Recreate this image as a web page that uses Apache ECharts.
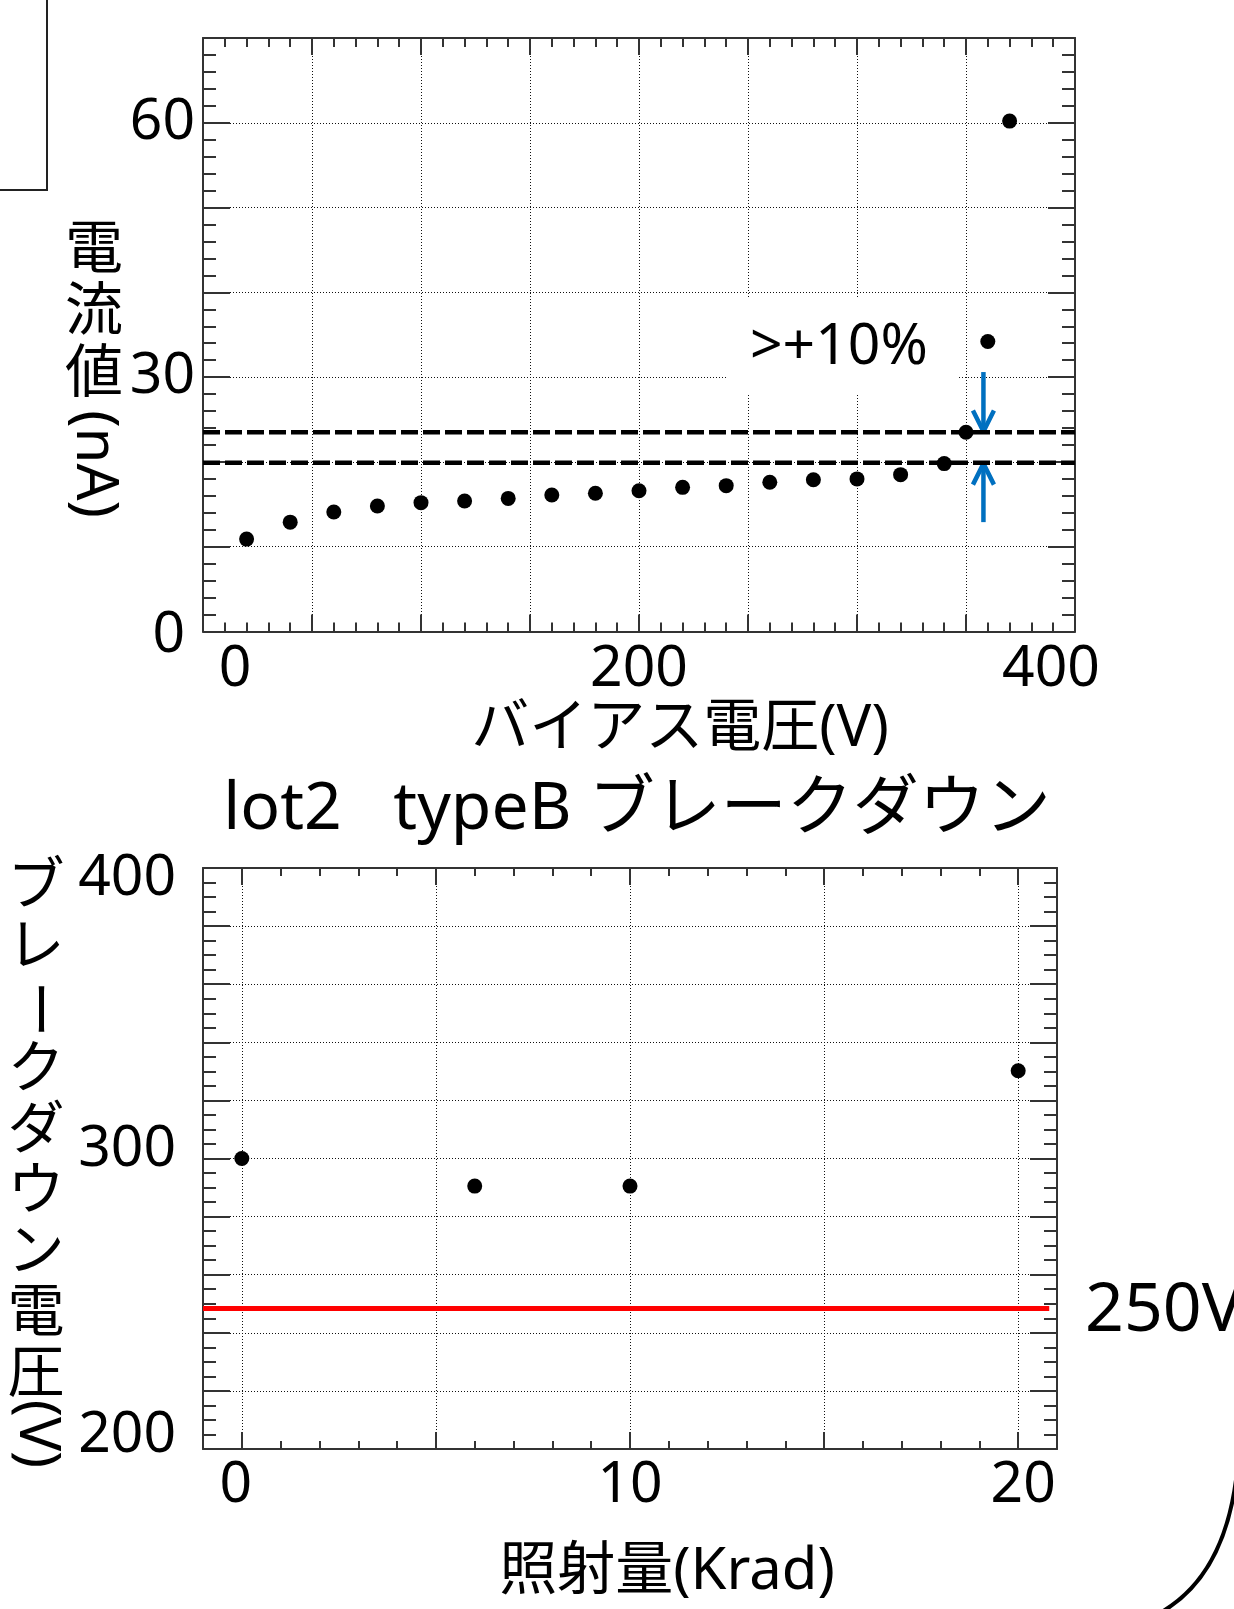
<!DOCTYPE html>
<html>
<head>
<meta charset="utf-8">
<script src="https://cdn.jsdelivr.net/npm/echarts@6/dist/echarts.min.js"></script>
<style>
  html, body { margin: 0; padding: 0; background: #fff; }
  #main { width: 1234px; height: 1609px; }
</style>
</head>
<body>
<div id="main"></div>
<script>
// 上のグラフ: バイアス電圧 vs 電流値
const biasVoltage = [20, 40, 60, 80, 100, 120, 140, 160, 180, 200, 220, 240, 260, 280, 300, 320, 340, 350, 360, 370]
const currentNA = [10.9, 12.9, 14.1, 14.8, 15.2, 15.4, 15.7, 16.1, 16.3, 16.6, 17.0, 17.2, 17.6, 17.9, 18.0, 18.5, 19.8, 23.5, 34.2, 60.2]
const biasTickLabels = [0, 200, 400]
const currentTickLabels = [0, 30, 60]
const thresholdSpan = [0, 400]
const thresholdLevels = [23.5, 19.9]
const arrowVoltage = 358
const arrowDown = [30.6, 23.6]
const arrowUp = [12.9, 19.8]

// 下のグラフ: 照射量 vs ブレークダウン電圧
const doseKrad = [0, 6, 10, 20]
const breakdownV = [300, 290.5, 290.5, 330.2]
const doseMajorTicks = [0, 5, 10, 15, 20]
const doseTickLabels = [0, 10, 20]
const breakdownTickLabels = [200, 300, 400]
const limitSpan = [-1, 20.8]
const limitLevel = 248.4

const FONT = "'Noto Sans', 'Noto Sans CJK JP', sans-serif"
const frameColor = '#333'
const blue = '#0070C0'

const chartDom = document.getElementById('main')
const myChart = echarts.init(chartDom)

const lineStyle = { color: frameColor, width: 2 }
const dots = { show: true, lineStyle: { color: '#111', width: 1, type: [1, 2] } }
const lbl = (extra) => ({ fontSize: 57, fontFamily: FONT, color: '#000', ...extra })

function frameAxis(opt) {
  return Object.assign({
    type: 'value',
    axisLine: { show: true, onZero: false, lineStyle },
    axisTick: { show: true, inside: true, length: 17, lineStyle },
    minorTick: { show: false },
    axisLabel: { show: false },
    splitLine: { show: false },
  }, opt)
}

var option = {
  animation: false,
  backgroundColor: '#fff',
  grid: [
    { left: 203, top: 38, width: 872, height: 593.5, outerBoundsMode: 'none' },
    { left: 203, top: 868, width: 854, height: 581, outerBoundsMode: 'none' },
  ],
  xAxis: [
    frameAxis({
      gridIndex: 0, position: 'bottom', min: 0, max: 400, interval: 50,
      minorTick: { show: true, splitNumber: 5, length: 9, lineStyle },
      splitLine: dots,
      axisLabel: {
        show: true, margin: 10, customValues: biasTickLabels,
        formatter: (v) => (v === 0 ? '{l|0}' : v === 400 ? '{r|400}' : '{n|' + v + '}'),
        rich: { l: lbl({ padding: [0, 0, 0, 64] }), r: lbl({ padding: [0, 48, 0, 0] }), n: lbl({}) },
      },
    }),
    frameAxis({
      gridIndex: 0, position: 'top', min: 0, max: 400, interval: 50,
      minorTick: { show: true, splitNumber: 5, length: 9, lineStyle },
    }),
    frameAxis({
      gridIndex: 1, position: 'bottom', min: -1, max: 21, interval: 1,
      axisTick: { show: true, inside: true, length: 8, lineStyle },
    }),
    frameAxis({
      gridIndex: 1, position: 'bottom', min: -1, max: 21,
      axisLine: { show: false, onZero: false },
      axisTick: { show: true, inside: true, length: 17, lineStyle, customValues: doseMajorTicks },
      splitLine: dots,
      axisLabel: {
        show: true, margin: 8, customValues: doseTickLabels,
        formatter: (v) => (v === 0 ? '{l|0}' : v === 20 ? '{r|20}' : '{n|' + v + '}'),
        rich: { l: lbl({ padding: [0, 12, 0, 0] }), r: lbl({ padding: [0, 0, 0, 10] }), n: lbl({}) },
      },
    }),
    frameAxis({
      gridIndex: 1, position: 'top', min: -1, max: 21, interval: 1,
      axisTick: { show: true, inside: true, length: 8, lineStyle },
    }),
    frameAxis({
      gridIndex: 1, position: 'top', min: -1, max: 21,
      axisLine: { show: false, onZero: false },
      axisTick: { show: true, inside: true, length: 17, lineStyle, customValues: doseMajorTicks },
    }),
  ],
  yAxis: [
    frameAxis({
      gridIndex: 0, position: 'left', min: 0, max: 70, interval: 10,
      axisTick: { show: true, inside: true, length: 27, lineStyle },
      minorTick: { show: true, splitNumber: 5, length: 13, lineStyle },
      splitLine: dots,
      axisLabel: {
        show: true, margin: 8, customValues: currentTickLabels,
        formatter: (v) => (v === 0 ? '{z|0}' : '{n|' + v + '}'),
        rich: { z: lbl({ padding: [8, 10, 0, 0] }), n: lbl({}) },
      },
    }),
    frameAxis({
      gridIndex: 0, position: 'right', min: 0, max: 70, interval: 10,
      axisTick: { show: true, inside: true, length: 27, lineStyle },
      minorTick: { show: true, splitNumber: 5, length: 13, lineStyle },
    }),
    frameAxis({
      gridIndex: 1, position: 'left', min: 200, max: 400, interval: 20,
      axisTick: { show: true, inside: true, length: 27, lineStyle },
      minorTick: { show: true, splitNumber: 4, length: 13, lineStyle },
      splitLine: dots,
      axisLabel: {
        show: true, margin: 27, customValues: breakdownTickLabels,
        formatter: (v) => (v === 400 ? '{a|400}' : v === 300 ? '{b|300}' : '{c|' + v + '}'),
        rich: {
          a: lbl({ padding: [22, 0, 0, 0] }),
          b: lbl({ padding: [0, 0, 18, 0] }),
          c: lbl({ padding: [0, 0, 26, 0] }),
        },
      },
    }),
    frameAxis({
      gridIndex: 1, position: 'right', min: 200, max: 400, interval: 20,
      axisTick: { show: true, inside: true, length: 27, lineStyle },
      minorTick: { show: true, splitNumber: 4, length: 13, lineStyle },
    }),
  ],
  series: [
    {
      name: 'current',
      type: 'scatter',
      xAxisIndex: 0,
      yAxisIndex: 0,
      symbolSize: 15,
      itemStyle: { color: '#000', opacity: 1 },
      z: 5,
      data: biasVoltage.map((v, i) => [v, currentNA[i]]),
    },
    ...thresholdLevels.map((lv) => ({
      type: 'line',
      xAxisIndex: 0,
      yAxisIndex: 0,
      symbol: 'none',
      z: 4,
      lineStyle: { color: '#000', width: 4.5, type: [17, 5] },
      data: thresholdSpan.map((x) => [x, lv]),
    })),
    {
      name: 'breakdown',
      type: 'scatter',
      xAxisIndex: 2,
      yAxisIndex: 2,
      symbolSize: 15,
      itemStyle: { color: '#000', opacity: 1 },
      z: 5,
      data: doseKrad.map((d, i) => [d, breakdownV[i]]),
    },
    {
      type: 'line',
      xAxisIndex: 2,
      yAxisIndex: 2,
      symbol: 'none',
      z: 4,
      lineStyle: { color: '#ff0000', width: 5 },
      data: limitSpan.map((x) => [x, limitLevel]),
    },
  ],
}

option && myChart.setOption(option)

// 注釈 (テキスト・矢印など)
function txt(x, y, text, size, extra) {
  return {
    type: 'text', x, y, z: 30,
    style: Object.assign({ text, fontSize: size, fontFamily: FONT, fill: '#000', align: 'center', verticalAlign: 'middle' }, extra || {}),
  }
}

function arrow(x, from, to) {
  const a = myChart.convertToPixel({ seriesIndex: 0 }, [x, from])
  const b = myChart.convertToPixel({ seriesIndex: 0 }, [x, to])
  const dir = b[1] > a[1] ? 1 : -1
  const st = { stroke: blue, lineWidth: 4.5, fill: null, lineJoin: 'round' }
  return {
    type: 'group', z: 30,
    children: [
      { type: 'line', shape: { x1: a[0], y1: a[1], x2: b[0], y2: b[1] - dir * 2 }, style: st },
      { type: 'polyline', shape: { points: [[b[0] - 10.5, b[1] - dir * 21], [b[0], b[1]], [b[0] + 10.5, b[1] - dir * 21]] }, style: st },
    ],
  }
}

myChart.setOption({
  graphic: [
    // 左上の枠の一部
    { type: 'polyline', z: 30, shape: { points: [[47, 0], [47, 190], [0, 190]] }, style: { stroke: '#222', lineWidth: 2, fill: null } },
    // >+10%
    { type: 'rect', z: 20, shape: { x: 728, y: 297, width: 229, height: 96 }, style: { fill: '#fff' } },
    txt(750, 348, '>+10%', 57, { align: 'left' }),
    arrow(arrowVoltage, arrowDown[0], arrowDown[1]),
    arrow(arrowVoltage, arrowUp[0], arrowUp[1]),
    // 軸名 上
    txt(94, 220, '電\n流\n値', 58, { verticalAlign: 'top', lineHeight: 62 }),
    Object.assign(txt(94, 464, '(nA)', 58), { rotation: -Math.PI / 2 }),
    txt(680, 729, 'バイアス電圧(V)', 58),
    // タイトル
    txt(637, 810, 'lot2   typeB ブレークダウン', 66),
    // 軸名 下
    txt(36, 857, 'ブ\nレ', 57, { verticalAlign: 'top', lineHeight: 61 }),
    Object.assign(txt(36, 1009, 'ー', 57), { rotation: -Math.PI / 2 }),
    txt(36, 1040, 'ク\nダ\nウ\nン\n電\n圧', 57, { verticalAlign: 'top', lineHeight: 61 }),
    Object.assign(txt(36, 1434, '(V)', 57), { rotation: -Math.PI / 2 }),
    txt(667, 1572, '照射量(Krad)', 58),
    txt(1085, 1312, '250V', 68, { align: 'left' }),
    // 右下の角
    { type: 'bezierCurve', z: 30, shape: { x1: 1236, y1: 1480, cpx1: 1222, cpy1: 1585, x2: 1150, y2: 1618 }, style: { stroke: '#000', lineWidth: 4, fill: null } },
  ],
})
</script>
</body>
</html>
